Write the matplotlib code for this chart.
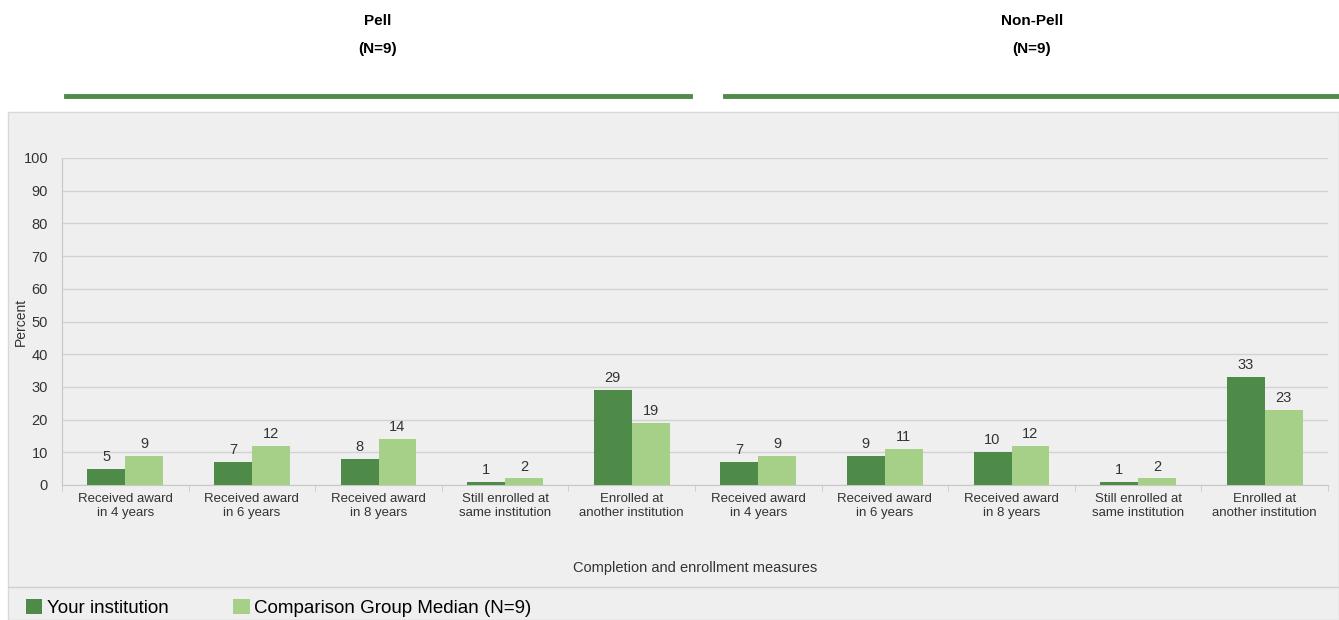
import numpy as np
import matplotlib.pyplot as plt
from matplotlib.patches import Rectangle
from matplotlib.lines import Line2D

# Data
categories = ['Received award\nin 4 years', 'Received award\nin 6 years', 'Received award\nin 8 years',
              'Still enrolled at\nsame institution', 'Enrolled at\nanother institution'] * 2
your_inst = [5, 7, 8, 1, 29, 7, 9, 10, 1, 33]
comparison = [9, 12, 14, 2, 19, 9, 11, 12, 2, 23]
groups = ['Pell\n(N=9)', 'Non-Pell\n(N=9)']
yticks = list(range(0, 101, 10))

dark = '#4E8A48'
light = '#A6CF88'
panel = '#EFEFEF'

W, H = 1339, 620
fig = plt.figure(figsize=(W / 100, H / 100), dpi=100)
fig.patch.set_facecolor('white')
plt.rcParams['font.family'] = ['Liberation Sans', 'DejaVu Sans']

# gray panel
fig.add_artist(Rectangle((8 / W, 0), 1 - 8 / W, (H - 112) / H, transform=fig.transFigure,
                         facecolor=panel, edgecolor='#D8D8D8', lw=1, zorder=0))
fig.add_artist(Line2D([8 / W, 1], [(H - 587) / H] * 2, transform=fig.transFigure, color='#D0D0D0', lw=1))

# group headers
for name, x0, x1 in [(groups[0], 66, 690), (groups[1], 725, 1339)]:
    fig.text((x0 + x1) / 2 / W, 1 - 35 / H, name, ha='center', va='center', fontsize=11,
             fontweight='bold', linespacing=2.3)
    fig.add_artist(Line2D([x0 / W, x1 / W], [1 - 96 / H] * 2, transform=fig.transFigure,
                          color=dark, lw=3.5))

ax = fig.add_axes([62 / W, (H - 485) / H, (1328 - 62) / W, (485 - 158) / H])
ax.set_facecolor(panel)
x = np.arange(len(categories))
bw = 0.3
b1 = ax.bar(x - bw / 2, your_inst, bw, color=dark, zorder=3)
b2 = ax.bar(x + bw / 2, comparison, bw, color=light, zorder=3)
for bars in (b1, b2):
    for r in bars:
        ax.text(r.get_x() + r.get_width() / 2, r.get_height() + 1.5, f'{r.get_height():.0f}',
                ha='center', va='bottom', fontsize=10.5, color='#333333')

ax.set_xlim(-0.5, len(categories) - 0.5)
ax.set_ylim(0, 100)
ax.set_yticks(yticks)
ax.yaxis.grid(True, color='#D2D2D2', lw=1, zorder=0)
ax.set_xticks(x)
ax.set_xticklabels(categories, fontsize=9.5, color='#333333')
ax.set_xticks(np.arange(len(categories) + 1) - 0.5, minor=True)
ax.tick_params(axis='x', which='major', length=0, pad=6)
ax.tick_params(axis='x', which='minor', length=4, color='#C8C8C8')
ax.tick_params(axis='y', length=0, labelsize=10.5, colors='#333333', pad=10)
for s in ['top', 'right']:
    ax.spines[s].set_visible(False)
ax.spines['left'].set_color('#C8C8C8')
ax.spines['bottom'].set_color('#C8C8C8')
ax.set_ylabel('Percent', fontsize=10, color='#333333', labelpad=-3)
ax.set_xlabel('Completion and enrollment measures', fontsize=10.5, color='#333333', labelpad=30)

# legend along bottom band
fig.legend([b1, b2], ['Your institution', 'Comparison Group Median (N=9)'], loc='center left',
           bbox_to_anchor=(0.0065, 12 / H), ncol=2, frameon=False, fontsize=13.5, handlelength=0.9,
           handleheight=0.9, handletextpad=0.25, columnspacing=3.4)

fig.savefig('out.png', dpi=100, facecolor='white')
